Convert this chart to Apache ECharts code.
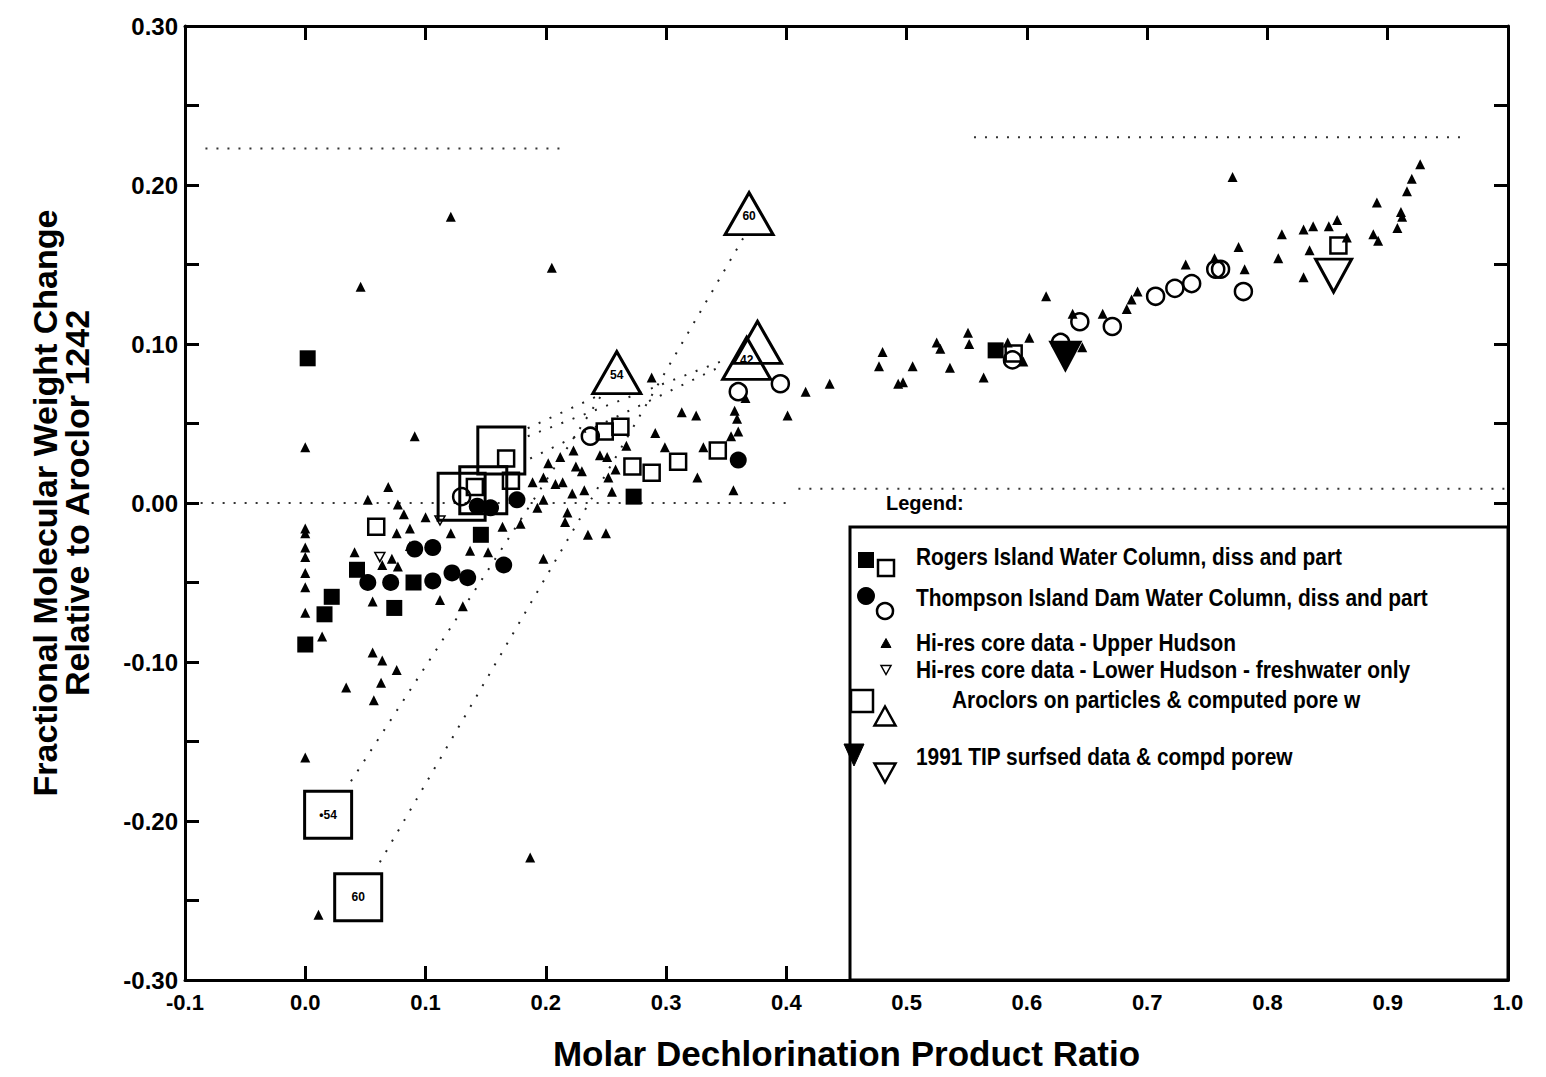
<!DOCTYPE html>
<html>
<head>
<meta charset="utf-8">
<script src="https://cdn.jsdelivr.net/npm/echarts@6/dist/echarts.min.js"></script>
<style>html,body{margin:0;padding:0;background:#fff}#c{width:1546px;height:1077px}</style>
</head>
<body>
<div id="c"></div>
<script>
// ---------------- DATA (x = molar dechlorination product ratio, y = fractional MW change) ----------------
const rogersDiss = [[0.002,0.091],[0.000,-0.089],[0.016,-0.070],[0.022,-0.059],[0.043,-0.042],[0.074,-0.066],
  [0.090,-0.050],[0.146,-0.020],[0.273,0.004],[0.574,0.096]];
const rogersPart = [[0.059,-0.015],[0.167,0.028],[0.171,0.014],[0.141,0.010],[0.249,0.045],[0.262,0.048],
  [0.272,0.023],[0.288,0.019],[0.310,0.026],[0.343,0.033],[0.589,0.094],[0.859,0.162]];
const tidDiss = [[0.091,-0.029],[0.106,-0.028],[0.052,-0.050],[0.071,-0.050],[0.106,-0.049],[0.122,-0.044],
  [0.135,-0.047],[0.165,-0.039],[0.176,0.002],[0.154,-0.003],[0.143,-0.002],[0.360,0.027]];
const tidPart = [[0.130,0.004],[0.237,0.042],[0.360,0.070],[0.395,0.075],[0.588,0.090],[0.628,0.101],
  [0.644,0.114],[0.671,0.111],[0.707,0.130],[0.723,0.135],[0.737,0.138],[0.757,0.147],[0.761,0.147],[0.780,0.133]];
const upperHudson = [
  [0.0,0.035],[0.0,-0.016],[0.0,-0.019],[0.0,-0.028],[0.0,-0.034],[0.0,-0.044],[0.0,-0.053],[0.0,-0.069],
  [0.0,-0.160],[0.011,-0.259],
  [0.046,0.136],[0.121,0.180],[0.205,0.148],[0.091,0.042],[0.069,0.010],[0.052,0.002],[0.077,-0.001],
  [0.082,-0.007],[0.076,-0.019],[0.087,-0.016],[0.100,-0.009],[0.121,-0.019],[0.041,-0.031],[0.072,-0.035],
  [0.064,-0.039],[0.077,-0.040],[0.056,-0.062],[0.112,-0.061],[0.131,-0.065],[0.014,-0.084],[0.164,-0.015],
  [0.152,-0.031],[0.137,-0.030],[0.179,-0.013],[0.087,-0.027],[0.198,-0.035],
  [0.056,-0.094],[0.064,-0.099],[0.076,-0.105],[0.034,-0.116],[0.063,-0.113],[0.057,-0.124],[0.187,-0.223],
  [0.288,0.079],[0.313,0.057],[0.325,0.055],[0.401,0.055],[0.291,0.044],[0.267,0.036],[0.245,0.030],
  [0.251,0.029],[0.299,0.035],[0.258,0.021],[0.252,0.016],[0.255,0.007],[0.232,0.008],[0.225,0.023],
  [0.230,0.020],[0.223,0.033],[0.212,0.029],[0.202,0.025],[0.198,0.016],[0.189,0.013],[0.208,0.012],
  [0.214,0.013],[0.222,0.006],[0.198,0.002],[0.193,-0.003],[0.218,-0.006],[0.216,-0.012],[0.235,-0.020],
  [0.250,-0.019],[0.326,0.016],[0.331,0.035],[0.354,0.042],[0.360,0.045],[0.359,0.053],[0.357,0.058],
  [0.366,0.066],[0.356,0.008],
  [0.416,0.070],[0.436,0.075],[0.480,0.095],[0.477,0.086],[0.493,0.075],[0.497,0.076],[0.505,0.086],
  [0.525,0.101],[0.528,0.097],[0.551,0.107],[0.552,0.100],[0.536,0.085],[0.564,0.079],[0.584,0.101],
  [0.597,0.089],[0.602,0.104],[0.616,0.130],[0.638,0.119],[0.646,0.098],[0.663,0.119],[0.683,0.122],
  [0.687,0.128],[0.692,0.133],[0.732,0.150],[0.756,0.154],[0.776,0.161],[0.781,0.147],[0.771,0.205],
  [0.809,0.154],[0.812,0.169],[0.830,0.142],[0.830,0.172],[0.838,0.174],[0.835,0.159],[0.851,0.174],
  [0.858,0.178],[0.866,0.167],[0.888,0.169],[0.892,0.165],[0.891,0.189],[0.908,0.173],[0.911,0.183],
  [0.912,0.180],[0.916,0.196],[0.920,0.204],[0.927,0.213]];
const lowerHudson = [[0.062,-0.034],[0.112,-0.011]];
const aroclorSquares = [[0.163,0.033],[0.130,0.004],[0.148,0.008],[0.019,-0.196],[0.044,-0.248]];
const aroclorSquareLabels = ['', '', '', '\u202254', '60'];
const aroclorTriangles = [[0.369,0.182],[0.259,0.082],[0.367,0.091],[0.376,0.101]];
const aroclorTriangleLabels = ['60', '54', '42', ''];
const tipSurfsed = [[0.632,0.092]];
const tipPorew = [[0.855,0.143]];
// dotted connectors (particle -> pore water)
const connectors = [
  [[0.038,-0.175],[0.249,0.071]],
  [[0.062,-0.226],[0.366,0.169]],
  [[0.185,0.042],[0.349,0.090]],
  [[0.187,0.028],[0.343,0.085]],
  [[0.185,0.047],[0.245,0.068]]
];
// dotted reference lines
const refLines = [
  [[-0.083,0.223],[0.212,0.223]],
  [[0.556,0.230],[0.965,0.230]],
  [[-0.087,0.0],[0.40,0.0]],
  [[0.41,0.009],[1.0,0.009]]
];
const legendEntries = [
  'Rogers Island Water Column, diss and part',
  'Thompson Island Dam Water Column, diss and part',
  'Hi-res core data - Upper Hudson',
  'Hi-res core data - Lower Hudson - freshwater only',
  'Aroclors on particles & computed pore w',
  '1991 TIP surfsed data & compd porew'
];
const xTitle = 'Molar Dechlorination Product Ratio';
const yTitle = 'Fractional Molecular Weight Change\nRelative to Aroclor 1242';

// ---------------- CHART ----------------
const FONT = "'Liberation Sans', Arial, Helvetica, sans-serif";
const chart = echarts.init(document.getElementById('c'), null, {renderer: 'svg'});
const black = '#000';
const filledStyle = {color: black, opacity: 1};
const openStyle = (w) => ({color: 'rgba(255,255,255,0)', borderColor: black, borderWidth: w, opacity: 1});

const axisCommon = {
  type: 'value',
  splitLine: {show: false},
  axisLine: {show: true, onZero: false, lineStyle: {color: black, width: 3}},
  axisTick: {show: true, inside: true, length: 14, lineStyle: {color: black, width: 3}}
};

const series = [];
refLines.forEach(seg => series.push({
  type: 'line', data: seg, symbol: 'none', silent: true, z: 1,
  lineStyle: {color: '#333', width: 2, type: [2, 9], opacity: 1}
}));
connectors.forEach(seg => series.push({
  type: 'line', data: seg, symbol: 'none', silent: true, z: 1,
  lineStyle: {color: '#222', width: 2, type: [2, 10], opacity: 1}
}));
series.push(
  {name: 'upper', type: 'scatter', data: upperHudson, symbol: 'triangle', symbolSize: [10, 10],
   itemStyle: filledStyle, z: 3},
  {name: 'lower', type: 'scatter', data: lowerHudson, symbol: 'triangle', symbolRotate: 180, symbolSize: [10, 9],
   itemStyle: openStyle(1.5), z: 3},
  {name: 'rogersDiss', type: 'scatter', data: rogersDiss, symbol: 'rect', symbolSize: 16,
   itemStyle: filledStyle, z: 4},
  {name: 'rogersPart', type: 'scatter', data: rogersPart, symbol: 'rect', symbolSize: 16,
   itemStyle: openStyle(2.5), z: 4},
  {name: 'tidDiss', type: 'scatter', data: tidDiss, symbol: 'circle', symbolSize: 17,
   itemStyle: filledStyle, z: 4},
  {name: 'tidPart', type: 'scatter', data: tidPart, symbol: 'circle', symbolSize: 17,
   itemStyle: openStyle(2.5), z: 4},
  {name: 'aroclorSq', type: 'scatter', data: aroclorSquares, symbol: 'rect', symbolSize: 47,
   itemStyle: openStyle(3), z: 5,
   label: {show: true, position: 'inside', formatter: p => aroclorSquareLabels[p.dataIndex],
     color: black, fontSize: 12, fontWeight: 'bold', fontFamily: FONT}},
  {name: 'aroclorTri', type: 'scatter', data: aroclorTriangles, symbol: 'triangle', symbolSize: [48, 42],
   itemStyle: openStyle(3), z: 5,
   label: {show: true, position: 'inside', offset: [0, 2], formatter: p => aroclorTriangleLabels[p.dataIndex],
     color: black, fontSize: 12, fontWeight: 'bold', fontFamily: FONT}},
  {name: 'tipSurf', type: 'scatter', data: tipSurfsed, symbol: 'triangle', symbolRotate: 180, symbolSize: [34, 32],
   itemStyle: filledStyle, z: 5},
  {name: 'tipPore', type: 'scatter', data: tipPorew, symbol: 'triangle', symbolRotate: 180, symbolSize: [36, 33],
   itemStyle: openStyle(3), z: 5}
);

// legend (drawn as a box with symbols and text, like the original)
const LX = 916, rowsY = [557, 598, 643, 670, 700, 757];
const txt = (x, y, t, size, sx) => ({
  type: 'text', x: x, y: y, scaleX: sx, z: 10,
  style: {text: t, fill: black, font: 'bold ' + size + 'px ' + FONT, verticalAlign: 'middle', align: 'left'}
});
const tri = (cx, cy, w, h, down, filled, lw) => ({
  type: 'polygon', z: 10,
  shape: {points: down ? [[cx - w/2, cy - h/2], [cx + w/2, cy - h/2], [cx, cy + h/2]]
                       : [[cx - w/2, cy + h/2], [cx + w/2, cy + h/2], [cx, cy - h/2]]},
  style: {fill: filled ? black : '#fff', stroke: black, lineWidth: lw}
});
const graphic = [
  {type: 'rect', z: 9, shape: {x: 850, y: 527, width: 658, height: 453},
   style: {fill: '#fff', stroke: black, lineWidth: 3}},
  txt(886, 503, 'Legend:', 20, 1),
  {type: 'rect', z: 10, shape: {x: 858, y: 552, width: 16, height: 16}, style: {fill: black}},
  {type: 'rect', z: 10, shape: {x: 878, y: 560, width: 16, height: 16}, style: {fill: '#fff', stroke: black, lineWidth: 2.5}},
  {type: 'circle', z: 10, shape: {cx: 866, cy: 596, r: 9}, style: {fill: black}},
  {type: 'circle', z: 10, shape: {cx: 885, cy: 611, r: 8}, style: {fill: '#fff', stroke: black, lineWidth: 2.5}},
  tri(886, 643, 10, 9, false, true, 1),
  tri(886, 670, 10, 9, true, false, 1.5),
  {type: 'rect', z: 10, shape: {x: 851, y: 690, width: 22, height: 22}, style: {fill: '#fff', stroke: black, lineWidth: 2.5}},
  tri(885, 716, 21, 19, false, false, 2.5),
  tri(854, 755, 20, 22, true, true, 1),
  tri(885, 773, 21, 19, true, false, 2.5)
];
legendEntries.forEach((t, i) => graphic.push(txt(i === 4 ? 952 : LX, rowsY[i], t, 24, 0.87)));

chart.setOption({
  animation: false,
  backgroundColor: '#fff',
  grid: {left: 185, right: 38, top: 26, bottom: 97, containLabel: false, outerBoundsMode: 'none'},
  xAxis: [
    Object.assign({}, axisCommon, {
      min: -0.1, max: 1.0, interval: 0.1, position: 'bottom',
      axisLabel: {formatter: v => (Math.round(v * 10) / 10).toFixed(1), margin: 11, color: black,
        fontSize: 22, fontWeight: 'bold', fontFamily: FONT},
      name: xTitle, nameLocation: 'middle', nameGap: 56,
      nameTextStyle: {color: black, fontSize: 35, fontWeight: 'bold', fontFamily: FONT}
    }),
    Object.assign({}, axisCommon, {min: -0.1, max: 1.0, interval: 0.1, position: 'top', axisLabel: {show: false}})
  ],
  yAxis: [
    Object.assign({}, axisCommon, {
      min: -0.3, max: 0.3, interval: 0.05, position: 'left',
      axisLabel: {formatter: v => { const r = Math.round(v * 100); return r % 10 === 0 ? (r / 100).toFixed(2) : ''; },
        margin: 7, color: black, fontSize: 24, fontWeight: 'bold', fontFamily: FONT},
      name: yTitle, nameLocation: 'middle', nameGap: 92, nameRotate: 90,
      nameTextStyle: {color: black, fontSize: 34, fontWeight: 'bold', fontFamily: FONT, lineHeight: 32, align: 'center'}
    }),
    Object.assign({}, axisCommon, {min: -0.3, max: 0.3, interval: 0.05, position: 'right', axisLabel: {show: false}})
  ],
  series: series,
  graphic: graphic
});
</script>
</body>
</html>
